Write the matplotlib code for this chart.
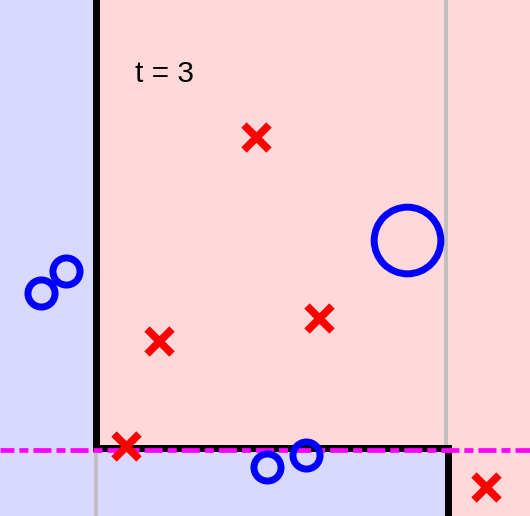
import matplotlib
matplotlib.use("Agg")
import matplotlib.pyplot as plt
from matplotlib.patches import Rectangle

plt.rcParams['lines.scale_dashes'] = False

# Data (in picture units, y grows downward)
circle_x = [41, 66, 267, 306, 407]
circle_y = [293, 271, 467, 455, 240]
circle_ms = [19.5, 19.5, 19.5, 19.5, 48]
cross_x = [256, 159, 319, 126, 486]
cross_y = [137, 341, 318, 446, 487]

# Decision stumps
split_x1 = 96      # first stump (vertical)
split_x2 = 448     # second stump (vertical)
split_y = 448      # third stump (horizontal)
ensemble_y = 450   # combined boundary (magenta)
label = "t = 3"

W, H = 530, 516
blue_bg = (0.85, 0.85, 1.0)
red_bg = (1.0, 0.85, 0.85)

fig = plt.figure(figsize=(W / 100, H / 100), dpi=100)
ax = fig.add_axes([0, 0, 1, 1])
ax.set_xlim(0, W)
ax.set_ylim(H, 0)
ax.axis('off')

# Background regions
ax.add_patch(Rectangle((0, 0), split_x1, H, color=blue_bg, lw=0, zorder=0))
ax.add_patch(Rectangle((split_x1, 0), split_x2 - split_x1, split_y, color=red_bg, lw=0, zorder=0))
ax.add_patch(Rectangle((split_x1, split_y), split_x2 - split_x1, H - split_y, color=blue_bg, lw=0, zorder=0))
ax.add_patch(Rectangle((split_x2, 0), W - split_x2, H, color=red_bg, lw=0, zorder=0))

# Grey earlier-stump lines
grey = (0.75, 0.75, 0.75)
ax.plot([split_x1, split_x1], [split_y, H], color=grey, lw=2.8, zorder=1)
ax.plot([split_x2 - 2, split_x2 - 2], [0, split_y], color=grey, lw=2.8, zorder=1)

# Black boundary
ax.plot([split_x1, split_x1, split_x2, split_x2], [0, split_y, split_y, H],
        color='black', lw=5.0, solid_joinstyle='miter', zorder=2)

# Magenta dash-dot
ax.plot([0, W], [ensemble_y, ensemble_y], color=(1, 0, 1), lw=3.4,
        linestyle=(3, (13, 3.6, 6.5, 3.6)), dash_capstyle='butt', zorder=3)

# Points
for x, y, ms in zip(circle_x, circle_y, circle_ms):
    ax.plot(x, y, 'o', ms=ms, mfc='none', mec=(0, 0, 1), mew=5.0, zorder=4)
ax.plot(cross_x, cross_y, 'x', ms=18, mec=(1, 0, 0), mew=5.5, ls='none', zorder=4)

ax.text(135, 74, label, fontsize=21.5, family='Liberation Sans', va='center', ha='left', zorder=5)

fig.savefig('out.png', dpi=100)
